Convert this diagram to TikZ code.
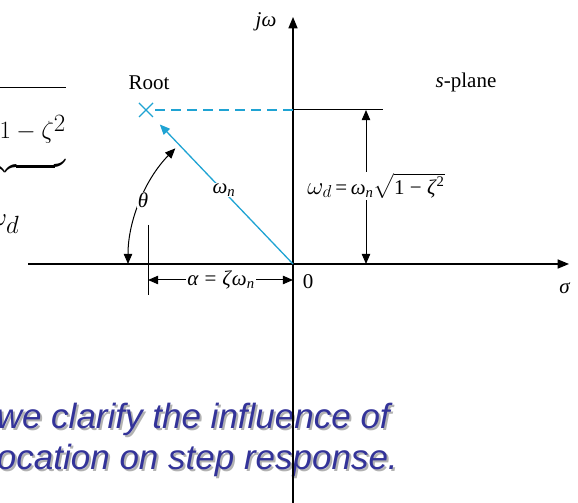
\documentclass[tikz,border=0pt]{standalone}
\usepackage{amsmath}
\usepackage{fontspec}
\setmainfont{Liberation Serif}
\newfontfamily\notefont{Liberation Sans}
\usetikzlibrary{arrows.meta,calc}
\definecolor{rootc}{HTML}{1FA3D3}
\definecolor{notec}{HTML}{333399}
\newcommand{\wsub}[1]{\textit{ω}\textsubscript{\textit{#1}}}
\tikzset{
  ax/.style={-{Triangle[length=4mm,width=3.2mm]},line width=1.3pt},
  dim/.style={{Triangle[length=3.6mm,width=3mm]}-{Triangle[length=3.6mm,width=3mm]},line width=1pt},
  lbl/.style={font=\fontsize{21}{24}\selectfont,inner sep=1pt},
  note/.style={font=\fontsize{35}{40}\selectfont\notefont\itshape,anchor=base east,inner sep=0pt}
}
\begin{document}
\begin{tikzpicture}[x=1pt,y=1pt]
\useasboundingbox (0,0) rectangle (578,503);
\clip (0,0) rectangle (578,503);
% formula cut off at the left edge
\node[font=\fontsize{37}{44}\selectfont,anchor=base east,inner sep=0pt] (wdbig) at (66,364)
  {$\displaystyle\underbrace{\omega_n\sqrt{\rule[-17pt]{0pt}{58pt}1-\zeta^2}}_{\textstyle\omega_d\rule{0pt}{50pt}}$};
% note text with shadow
\node[note,text=black!30] (shad1) at (392,72) {we clarify the influence of};
\node[note,text=notec] (note1) at (390,74) {we clarify the influence of};
\node[note,text=black!30] (shad2) at (400,31) {location on step response.};
\node[note,text=notec] (note2) at (398,33) {location on step response.};
% axes
\coordinate (O) at (293,239);
\coordinate (xl) at (28,239);
\coordinate (xr) at (569,239);
\coordinate (yb) at (293,0);
\coordinate (yt) at (293,486);
\draw[ax] (xl) -- (xr);
\draw[ax] (yb) -- (yt);
\node[lbl] (jw) at (266,481) {\textit{jω}};
\node[lbl] (sig) at (565,215) {\textit{σ}};
\node[lbl] (zero) at (308,221) {0};
\node[lbl] (spl) at (466,421) {\textit{s}-plane};
% root and its projections
\coordinate (R) at (146,393);
\coordinate (Ry) at (293,393);
\coordinate (Rr) at (383,393);
\draw[rootc,line width=1.4pt] ($(R)+(-7,-7)$) -- ($(R)+(7,7)$) ($(R)+(-7,7)$) -- ($(R)+(7,-7)$);
\node[lbl] (rootlbl) at (149,420) {Root};
\draw[rootc,line width=1.2pt,dash pattern=on 10pt off 6pt] ($(R)+(9,0)$) -- (Ry);
\draw[line width=1pt] (Ry) -- (Rr);
\draw[rootc,line width=1.3pt,-{Triangle[length=3.6mm,width=3mm]},shorten >=20pt] (O) -- (R);
\node[lbl,fill=white] (wn) at (224,313) {\wsub{n}};
% damped frequency
\coordinate (wdt) at (366,393);
\coordinate (wdb) at (366,239);
\draw[dim] (wdt) -- (wdb);
\node[lbl,fill=white,inner sep=1pt] (wdlbl) at (376,317)
  {{\fontsize{27}{27}\selectfont$\omega_d$}\,=\,\wsub{n}$\sqrt{\hbox{1 − \textit{ζ}\textsuperscript{2}}}$};
% angle theta
\draw[dim] ($(O)+(180:165)$) arc[start angle=180,end angle=135.5,radius=165];
\node[lbl,fill=white] (th) at (143,303) {\textit{θ}};
% alpha
\coordinate (at) at (148,278);
\coordinate (ab) at (148,208);
\draw[line width=1pt] (at) -- (ab);
\coordinate (al) at (148,223);
\coordinate (ar) at (293,223);
\draw[dim] (al) -- (ar);
\node[lbl,fill=white] (alpha) at (221,223) {\textit{α}\;=\;\textit{ζ}\wsub{n}};
\end{tikzpicture}
\end{document}
